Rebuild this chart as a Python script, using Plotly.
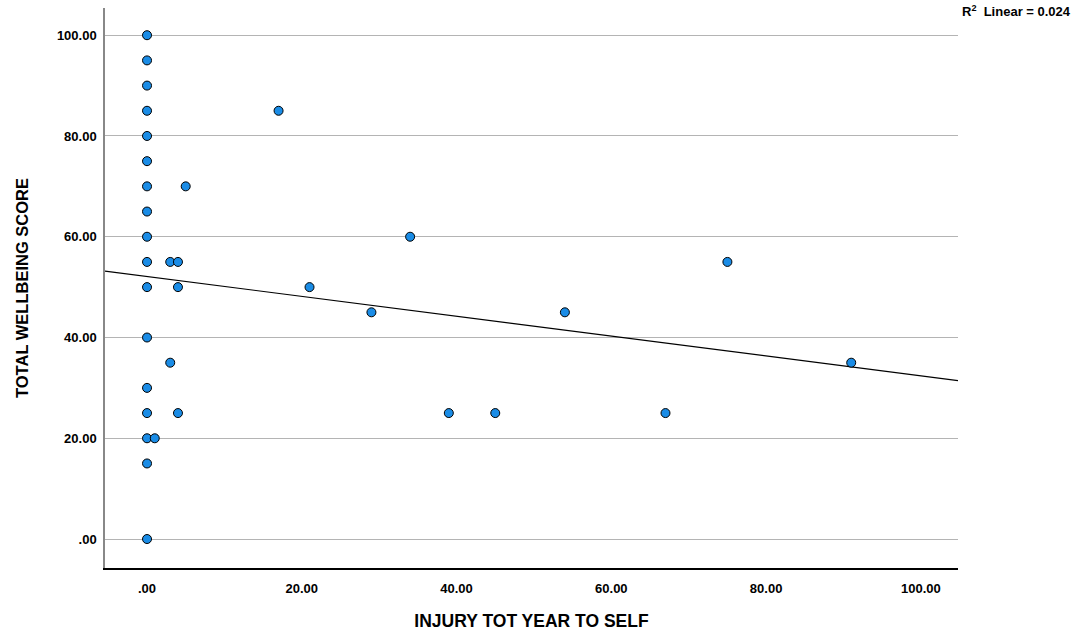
import plotly.graph_objects as go

# Injury count over the year vs. wellbeing score
injury = [0, 0, 0, 0, 0, 0, 0, 0, 0, 0, 0, 0, 0, 0, 0, 0, 0,
          17, 5, 3, 4, 4, 34, 21, 29, 54, 3, 4, 39, 45, 67, 75, 91, 1]
wellbeing = [100, 95, 90, 85, 80, 75, 70, 65, 60, 55, 50, 40, 30, 25, 20, 15, 0,
             85, 70, 55, 55, 50, 60, 50, 45, 45, 35, 25, 25, 25, 25, 55, 35, 20]

# Linear fit (intercept, slope) of the full sample
fit_intercept = 52.1
fit_slope = -0.197
r2_linear = 0.024

x_ticks = [0, 20, 40, 60, 80, 100]
x_tick_text = [".00", "20.00", "40.00", "60.00", "80.00", "100.00"]
y_ticks = [0, 20, 40, 60, 80, 100]
y_tick_text = [".00", "20.00", "40.00", "60.00", "80.00", "100.00"]

x_range = [-5.43, 104.8]
y_range = [-5.75, 105.4]

fit_x = list(x_range)
fit_y = [fit_intercept + fit_slope * v for v in fit_x]

FONT = "Liberation Sans, Arial, sans-serif"

fig = go.Figure()
fig.add_trace(go.Scatter(
    x=fit_x, y=fit_y, mode="lines",
    line=dict(color="black", width=1.2),
    hoverinfo="skip", showlegend=False,
))
fig.add_trace(go.Scatter(
    x=injury, y=wellbeing, mode="markers",
    marker=dict(size=9, color="#1a8ce6", line=dict(color="black", width=1)),
    showlegend=False,
))

fig.add_annotation(
    text="<b>R<sup>2</sup>  Linear = %.3f</b>" % r2_linear,
    xref="paper", yref="paper", x=1.002, y=0.995,
    xanchor="left", yanchor="middle", showarrow=False,
    font=dict(family=FONT, size=13, color="black"),
)

fig.update_layout(
    width=1090, height=635,
    margin=dict(l=105, r=132, t=8, b=67),
    plot_bgcolor="white", paper_bgcolor="white",
    font=dict(family=FONT, color="black"),
    xaxis=dict(
        range=x_range, tickvals=x_ticks, automargin=False,
        ticktext=["<b>%s</b>" % t for t in x_tick_text],
        tickfont=dict(family=FONT, size=13), showgrid=False, zeroline=False,
        showline=True, linecolor="black", linewidth=1.5, ticks="",
        ticklabelstandoff=8,
        title=dict(text="<b>INJURY TOT YEAR TO SELF</b>",
                   font=dict(family=FONT, size=17.5), standoff=19),
    ),
    yaxis=dict(
        range=y_range, tickvals=y_ticks, automargin=False,
        ticktext=["<b>%s</b>" % t for t in y_tick_text],
        tickfont=dict(family=FONT, size=13), showgrid=True,
        gridcolor="#b4b4b4", gridwidth=1, zeroline=False,
        showline=True, linecolor="#888888", linewidth=1.5, ticks="",
        ticklabelstandoff=4,
        title=dict(text="<b>TOTAL WELLBEING SCORE</b>",
                   font=dict(family=FONT, size=16.5), standoff=24),
    ),
)

fig.write_html("out.html")
